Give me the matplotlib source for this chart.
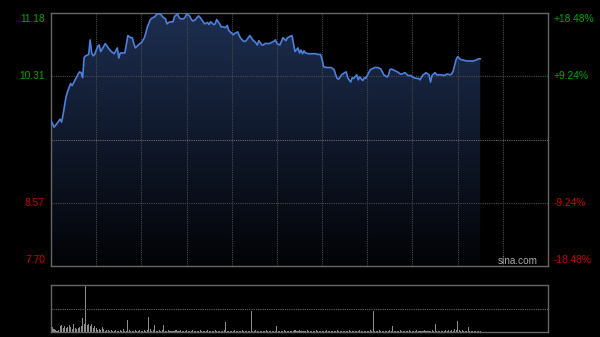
import numpy as np
import matplotlib
matplotlib.use("Agg")
import matplotlib.pyplot as plt
from matplotlib.colors import LinearSegmentedColormap

# ── Data ─────────────────────────────────────────────────────────────────────

# minutes since 09:30 (HK session: 330 trading minutes incl. afternoon)
minutes = [
    0, 2, 4, 6, 7, 8, 10, 11, 13, 14, 16, 18, 19, 20, 21, 22, 23, 25, 26, 27,
    28, 29, 31, 32, 33, 35, 36, 38, 40, 42, 44, 45, 46, 47, 49, 50, 51, 53, 54, 55,
    56, 58, 59, 60, 62, 63, 64, 66, 67, 69, 70, 72, 73, 74, 76, 77, 78, 80, 81, 82,
    84, 85, 86, 88, 89, 90, 92, 93, 94, 96, 97, 98, 99, 101, 102, 104, 105, 106, 108, 109,
    110, 112, 113, 114, 116, 117, 118, 120, 121, 122, 124, 125, 126, 128, 129, 130, 132, 133, 134, 136,
    137, 138, 140, 141, 142, 145, 148, 149, 150, 152, 153, 154, 156, 157, 158, 160, 161, 162, 164, 165,
    166, 167, 168, 169, 171, 172, 173, 175, 176, 177, 179, 180, 181, 183, 185, 186, 188, 189, 190, 191,
    192, 193, 195, 196, 197, 199, 200, 201, 203, 204, 205, 207, 208, 209, 211, 212, 213, 215, 216, 217,
    219, 220, 221, 223, 224, 225, 226, 228, 229, 230, 232, 233, 235, 236, 237, 239, 240, 241, 243, 244,
    245, 247, 248, 249, 251, 252, 253, 255, 256, 257, 259, 261, 263, 265, 266, 267, 268, 269, 270, 272,
    274, 276, 278, 280, 282, 284, 285,
]
prices = [
    9.70, 9.61, 9.66, 9.72, 9.68, 9.78, 10.03, 10.10, 10.21, 10.18, 10.26, 10.34, 10.37, 10.36, 10.29, 10.57, 10.59, 10.61, 10.81, 10.63,
    10.59, 10.61, 10.72, 10.74, 10.65, 10.72, 10.76, 10.70, 10.65, 10.62, 10.70, 10.56, 10.63, 10.63, 10.63, 10.74, 10.87, 10.84, 10.84, 10.76,
    10.70, 10.74, 10.76, 10.77, 10.84, 10.91, 10.99, 11.09, 11.11, 11.13, 11.16, 11.17, 11.16, 11.13, 11.10, 11.03, 11.05, 11.06, 11.06, 11.13,
    11.17, 11.12, 11.10, 11.10, 11.12, 11.17, 11.14, 11.10, 11.07, 11.09, 11.12, 11.14, 11.12, 11.06, 11.03, 11.05, 11.02, 11.06, 11.02, 11.03,
    11.09, 11.03, 10.99, 10.99, 10.98, 11.01, 10.94, 10.90, 10.88, 10.90, 10.92, 10.87, 10.83, 10.79, 10.79, 10.81, 10.87, 10.84, 10.81, 10.77,
    10.74, 10.80, 10.74, 10.74, 10.76, 10.76, 10.79, 10.81, 10.76, 10.74, 10.79, 10.84, 10.80, 10.84, 10.85, 10.87, 10.76, 10.65, 10.70, 10.63,
    10.67, 10.62, 10.66, 10.63, 10.62, 10.62, 10.62, 10.62, 10.62, 10.61, 10.61, 10.54, 10.44, 10.43, 10.43, 10.43, 10.40, 10.33, 10.28, 10.27,
    10.30, 10.33, 10.36, 10.37, 10.29, 10.23, 10.29, 10.28, 10.33, 10.26, 10.30, 10.25, 10.29, 10.28, 10.36, 10.40, 10.41, 10.43, 10.43, 10.43,
    10.41, 10.37, 10.33, 10.30, 10.32, 10.40, 10.41, 10.39, 10.38, 10.37, 10.34, 10.34, 10.36, 10.34, 10.32, 10.32, 10.30, 10.29, 10.28, 10.28,
    10.26, 10.33, 10.34, 10.36, 10.33, 10.23, 10.32, 10.36, 10.33, 10.33, 10.33, 10.32, 10.34, 10.33, 10.34, 10.38, 10.46, 10.54, 10.58, 10.54,
    10.53, 10.52, 10.52, 10.52, 10.53, 10.55, 10.55,
]

# per-minute volume, minutes 0..285 (relative units, peak = 100)
volume = [
    12, 10, 6, 5, 3, 4, 13, 14, 9, 12, 8, 10, 15, 11, 6, 17, 8, 6, 9, 11,
    12, 30, 18, 100, 14, 18, 12, 16, 9, 12, 8, 5, 7, 4, 10, 6, 3, 4, 5, 3,
    4, 3, 2, 5, 3, 2, 4, 3, 6, 2, 3, 26, 4, 3, 2, 3, 5, 2, 3, 4,
    2, 3, 5, 3, 4, 32, 6, 3, 4, 15, 3, 2, 4, 3, 5, 15, 3, 2, 4, 3,
    2, 3, 2, 4, 3, 2, 5, 3, 2, 3, 4, 2, 3, 2, 4, 3, 2, 3, 2, 4,
    3, 2, 3, 2, 5, 3, 2, 3, 2, 4, 3, 2, 3, 2, 3, 4, 22, 3, 2, 3,
    2, 3, 4, 2, 3, 2, 3, 5, 2, 3, 2, 3, 2, 45, 3, 2, 4, 3, 2, 3,
    2, 3, 2, 4, 3, 2, 3, 2, 3, 2, 13, 3, 2, 3, 2, 4, 3, 2, 3, 2,
    3, 2, 4, 3, 2, 5, 3, 2, 3, 2, 4, 3, 2, 3, 2, 3, 4, 2, 3, 2,
    3, 2, 3, 4, 2, 3, 2, 3, 2, 3, 4, 2, 3, 2, 3, 2, 3, 2, 4, 3,
    2, 3, 2, 3, 2, 4, 3, 2, 3, 2, 3, 2, 4, 3, 45, 2, 3, 2, 4, 3,
    2, 3, 2, 3, 2, 4, 3, 13, 2, 3, 2, 3, 4, 2, 3, 2, 3, 2, 4, 3,
    2, 3, 2, 4, 3, 2, 3, 2, 4, 3, 2, 3, 2, 4, 3, 18, 3, 2, 3, 2,
    3, 2, 4, 3, 5, 3, 4, 3, 6, 4, 23, 5, 3, 4, 3, 3, 2, 10, 3, 2,
    3, 2, 3, 2, 3, 2,
]

prev_close = 9.44
price_ticks = [7.70, 8.57, 9.44, 10.31, 11.18]
left_labels = ["7.70", "8.57", "", "10.31", "11.18"]
right_labels = ["-18.48%", "-9.24%", "", "+9.24%", "+18.48%"]

SESSION_MINUTES = 330
GRID_STEP = 30

GREEN = "#00a800"
RED = "#d00000"
GRID = "#4a4a4a"
SPINE = "#666666"
FONT = ["Liberation Sans", "DejaVu Sans"]

# ── Figure ───────────────────────────────────────────────────────────────────

fig = plt.figure(figsize=(6, 3.37), dpi=100, facecolor="black")
ax = fig.add_axes([51 / 600, 1 - 266 / 337, 497 / 600, 253 / 337])
axv = fig.add_axes([51 / 600, 1 - 332 / 337, 497 / 600, 47 / 337])

y_lo, y_hi = price_ticks[0], price_ticks[-1]

for a in (ax, axv):
    a.set_facecolor("black")
    a.set_xlim(0, SESSION_MINUTES)
    a.set_xticks([])
    a.set_yticks([])
    for s in a.spines.values():
        s.set_color(SPINE)
        s.set_linewidth(1)

ax.set_ylim(y_lo, y_hi)

# gradient fill under the price line
cmap = LinearSegmentedColormap.from_list("fill", ["#020306", "#1d2e50"])
grad = np.linspace(1, 0, 256).reshape(-1, 1)
im = ax.imshow(grad, extent=[0, SESSION_MINUTES, y_lo, y_hi], aspect="auto",
               cmap=cmap, origin="upper", zorder=1)
poly = ax.fill_between(minutes, prices, y_lo, color="none", linewidth=0)
im.set_clip_path(poly.get_paths()[0], transform=ax.transData)

# grid
for m in range(GRID_STEP, SESSION_MINUTES, GRID_STEP):
    ax.axvline(m, color=GRID, lw=0.8, ls=(0, (1, 1)), zorder=2)
for p in price_ticks[1:-1]:
    ax.axhline(p, color=GRID if p != prev_close else "#6a6a6a",
               lw=0.8, ls=(0, (1, 1)), zorder=2)

ax.plot(minutes, prices, color="#4b80dc", lw=1.2, zorder=3)

# axis labels
for p, ll, rl in zip(price_ticks, left_labels, right_labels):
    if not ll:
        continue
    col = GREEN if p > prev_close else RED
    va = "top" if p == y_hi else ("bottom" if p == y_lo else "center")
    off = -0.02 if p == y_hi else (0.02 if p == y_lo else 0)
    ax.text(-4, p + off, ll, color=col, fontsize=7.4, ha="right", va=va,
            family=FONT, clip_on=False)
    ax.text(SESSION_MINUTES + 3.5, p + off, rl, color=col, fontsize=7.4,
            ha="left", va=va, family=FONT, clip_on=False)

ax.text(0.98, 0.0, "sina.com", color="#aaaaaa", fontsize=7.2, ha="right",
        va="bottom", family=FONT, transform=ax.transAxes, zorder=4)

# volume panel
axv.bar(range(len(volume)), volume, width=0.7, color="#8c8c8c", linewidth=0)
axv.set_ylim(0, max(volume))
axv.spines["top"].set_linestyle((0, (1, 1)))
axv.axhline(max(volume) / 2, color=SPINE, lw=0.8, ls=(0, (1, 1)))

fig.savefig("out.png", dpi=100, facecolor="black")
